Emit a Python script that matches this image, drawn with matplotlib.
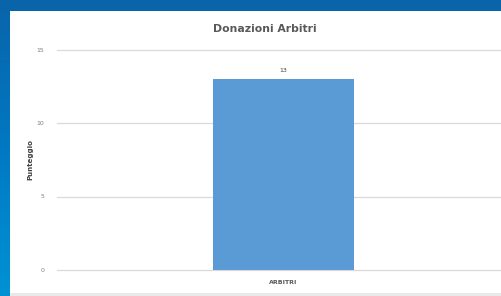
import numpy as np
import matplotlib
matplotlib.use('Agg')
import matplotlib.pyplot as plt
from matplotlib.colors import LinearSegmentedColormap
from matplotlib.patches import Rectangle

# chart data
title = 'Donazioni Arbitri'
categories = ['ARBITRI']
values = [13]
y_ticks = [0, 5, 10, 15]
y_label = 'Punteggio'

W, H = 502, 296
fig = plt.figure(figsize=(W/100, H/100), dpi=100)

# blue slide background with a soft gradient (dark at top, lighter below)
bg = fig.add_axes([0, 0, 1, 1], zorder=0)
cmap = LinearSegmentedColormap.from_list('slide', ['#0a64aa', '#0079c2', '#0092d4'])
grad = np.linspace(0, 1, 256).reshape(-1, 1)
bg.imshow(grad, aspect='auto', cmap=cmap, extent=[0, W, H, 0], origin='upper')
bg.set_xlim(0, W)
bg.set_ylim(H, 0)
bg.axis('off')

# white chart panel
bg.add_patch(Rectangle((10, 11), W + 10, 283, facecolor='white', edgecolor='none', clip_on=False))
bg.add_patch(Rectangle((10, 293), W + 10, 10, facecolor='#e9e9e9', edgecolor='none', clip_on=False))

# plot area in pixels
left, right, top, bottom = 57, 510, 49.5, 270
ax = fig.add_axes([left/W, (H - bottom)/H, (right - left)/W, (bottom - top)/H], zorder=1)
ax.patch.set_alpha(0)

x = np.arange(len(categories))
bars = ax.bar(x, values, width=0.312, color='#5b9bd5', zorder=2)
ax.set_xlim(-0.5, 0.5)
ax.set_ylim(0, 15)
ax.set_yticks(y_ticks)
ax.set_xticks(x)
ax.set_xticklabels(categories)
ax.grid(axis='y', color='#d9d9d9', linewidth=0.9, zorder=0)
for gl in ax.get_ygridlines():
	gl.set_clip_on(False)
ax.set_axisbelow(True)
for s in ax.spines.values():
	s.set_visible(False)
ax.tick_params(axis='both', length=0, labelsize=4.5, colors='#7f7f7f')
ax.tick_params(axis='y', pad=9)
ax.tick_params(axis='x', pad=7, labelcolor='#595959')
for t in ax.get_xticklabels():
	t.set_fontweight('bold')

for b, v in zip(bars, values):
	ax.text(b.get_x() + b.get_width()/2, v + 0.4, str(v), ha='center', va='bottom',
		fontsize=4.5, color='#404040')

fig.text(30/W, 1 - 160/H, y_label, rotation=90, ha='center', va='center',
	fontsize=5, fontweight='bold', color='#404040')
fig.text(265/W, 1 - 29/H, title, ha='center', va='center',
	fontsize=7.8, fontweight='bold', color='#595959')

fig.savefig('out.png', dpi=100)
